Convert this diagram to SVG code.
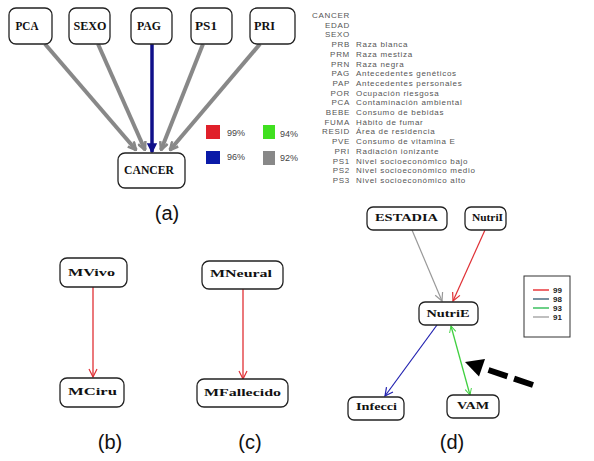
<svg xmlns="http://www.w3.org/2000/svg" width="594" height="461" viewBox="0 0 594 461">
<style>
.box{fill:#fff;stroke:#222;stroke-width:1.3}
.nl{font-family:"Liberation Serif",serif;font-weight:bold;fill:#111;text-anchor:middle}
.a{font-size:13px}
.s{font-size:10px}
.ab{font-family:"Liberation Sans",sans-serif;font-size:8px;fill:#555;letter-spacing:0.7px;text-anchor:end}
.ds{font-family:"Liberation Sans",sans-serif;font-size:8px;fill:#555;letter-spacing:0.7px}
.pl{font-family:"Liberation Sans",sans-serif;font-size:20px;fill:#111;text-anchor:middle}
.pct{font-family:"Liberation Sans",sans-serif;font-size:9px;fill:#444}
.lg{font-family:"Liberation Sans",sans-serif;font-size:8px;font-weight:bold;fill:#222}
</style>
<defs>
<marker id="mg" viewBox="0 0 10 10" refX="9" refY="5" markerWidth="10" markerHeight="10" markerUnits="userSpaceOnUse" orient="auto"><path d="M1,1 L9,5 L1,9" fill="none" stroke="#888" stroke-width="2.5"/></marker>
<marker id="mb" viewBox="0 0 10 10" refX="9" refY="5" markerWidth="10" markerHeight="10" markerUnits="userSpaceOnUse" orient="auto"><path d="M1,1 L9,5 L1,9 Z" fill="#10108a" stroke="#10108a" stroke-width="1.5"/></marker>
<marker id="mr" viewBox="0 0 10 10" refX="9" refY="5" markerWidth="10" markerHeight="10" markerUnits="userSpaceOnUse" orient="auto"><path d="M1,1 L9,5 L1,9" fill="none" stroke="#e03035" stroke-width="1.2"/></marker>
<marker id="mgr" viewBox="0 0 10 10" refX="9" refY="5" markerWidth="10" markerHeight="10" markerUnits="userSpaceOnUse" orient="auto"><path d="M1,1 L9,5 L1,9" fill="none" stroke="#999" stroke-width="1.2"/></marker>
<marker id="mbl" viewBox="0 0 10 10" refX="9" refY="5" markerWidth="10" markerHeight="10" markerUnits="userSpaceOnUse" orient="auto"><path d="M1,1 L9,5 L1,9" fill="none" stroke="#2020b0" stroke-width="1.2"/></marker>
<marker id="mgn" viewBox="0 0 10 10" refX="9" refY="5" markerWidth="8" markerHeight="8" markerUnits="userSpaceOnUse" orient="auto-start-reverse"><path d="M1,1 L9,5 L1,9" fill="none" stroke="#40d040" stroke-width="1.2"/></marker>
</defs>

<g id="connectors">
<line x1="45" y1="44" x2="136" y2="150" stroke="#888" stroke-width="4" marker-end="url(#mg)"/>
<line x1="98" y1="44" x2="145" y2="150" stroke="#888" stroke-width="4" marker-end="url(#mg)"/>
<line x1="152" y1="44" x2="152" y2="152" stroke="#10108a" stroke-width="3.5" marker-end="url(#mb)"/>
<line x1="203" y1="44" x2="161" y2="150" stroke="#888" stroke-width="4" marker-end="url(#mg)"/>
<line x1="260" y1="44" x2="170" y2="150" stroke="#888" stroke-width="4" marker-end="url(#mg)"/>
<line x1="93" y1="287" x2="93" y2="377" stroke="#e03035" stroke-width="1.3" marker-end="url(#mr)"/>
<line x1="243" y1="289" x2="243" y2="379" stroke="#e03035" stroke-width="1.3" marker-end="url(#mr)"/>
<line x1="412" y1="230" x2="442" y2="301" stroke="#999" stroke-width="1.2" marker-end="url(#mgr)"/>
<line x1="485" y1="230" x2="453" y2="301" stroke="#e03035" stroke-width="1.2" marker-end="url(#mr)"/>
<line x1="437" y1="325" x2="385" y2="396" stroke="#2020b0" stroke-width="1.2" marker-end="url(#mbl)"/>
<line x1="451" y1="326" x2="470" y2="395" stroke="#40d040" stroke-width="1.3" marker-start="url(#mgn)" marker-end="url(#mgn)"/>
<line x1="533" y1="385" x2="484" y2="368.5" stroke="#000" stroke-width="6" stroke-dasharray="20 7"/>
<polygon points="465,362 485,359 479,376.5" fill="#000"/>
</g>

<g id="node-PCA"><rect class="box" x="9" y="8" width="43" height="36" rx="7"/><text class="nl a" x="27" y="30" textLength="23" lengthAdjust="spacingAndGlyphs">PCA</text></g>
<g id="node-SEXO"><rect class="box" x="69" y="8" width="41" height="36" rx="7"/><text class="nl a" x="90" y="30" textLength="33" lengthAdjust="spacingAndGlyphs">SEXO</text></g>
<g id="node-PAG"><rect class="box" x="131" y="8" width="41" height="36" rx="7"/><text class="nl a" x="149" y="30" textLength="24" lengthAdjust="spacingAndGlyphs">PAG</text></g>
<g id="node-PS1"><rect class="box" x="191" y="8" width="41" height="36" rx="7"/><text class="nl a" x="206" y="30" textLength="22" lengthAdjust="spacingAndGlyphs">PS1</text></g>
<g id="node-PRI"><rect class="box" x="250" y="8" width="45" height="36" rx="7"/><text class="nl a" x="264.5" y="30" textLength="21" lengthAdjust="spacingAndGlyphs">PRI</text></g>
<g id="node-CANCER"><rect class="box" x="118" y="153" width="67" height="35" rx="7"/><text class="nl a" x="149" y="174" textLength="50" lengthAdjust="spacingAndGlyphs">CANCER</text></g>

<g id="legend-a">
<rect x="206" y="125" width="14" height="14" fill="#e0202a"/><text class="pct" x="227" y="136">99%</text>
<rect x="263" y="125" width="12" height="14" fill="#40e020"/><text class="pct" x="280" y="137">94%</text>
<rect x="206" y="151" width="14" height="13" fill="#0a1aa8"/><text class="pct" x="227" y="160">96%</text>
<rect x="263" y="151" width="12" height="14" fill="#888"/><text class="pct" x="280" y="161">92%</text>
</g>

<g id="variable-list">
<text class="ab" x="350" y="18">CANCER</text>
<text class="ab" x="350" y="27.7">EDAD</text>
<text class="ab" x="350" y="37.4">SEXO</text>
<text class="ab" x="350" y="47.1">PRB</text><text class="ds" x="356" y="47.1">Raza blanca</text>
<text class="ab" x="350" y="56.8">PRM</text><text class="ds" x="356" y="56.8">Raza mestiza</text>
<text class="ab" x="350" y="66.5">PRN</text><text class="ds" x="356" y="66.5">Raza negra</text>
<text class="ab" x="350" y="76.2">PAG</text><text class="ds" x="356" y="76.2">Antecedentes genéticos</text>
<text class="ab" x="350" y="85.9">PAP</text><text class="ds" x="356" y="85.9">Antecedentes personales</text>
<text class="ab" x="350" y="95.6">POR</text><text class="ds" x="356" y="95.6">Ocupación riesgosa</text>
<text class="ab" x="350" y="105.3">PCA</text><text class="ds" x="356" y="105.3">Contaminación ambiental</text>
<text class="ab" x="350" y="115">BEBE</text><text class="ds" x="356" y="115">Consumo de bebidas</text>
<text class="ab" x="350" y="124.7">FUMA</text><text class="ds" x="356" y="124.7">Hábito de fumar</text>
<text class="ab" x="350" y="134.4">RESID</text><text class="ds" x="356" y="134.4">Área de residencia</text>
<text class="ab" x="350" y="144.1">PVE</text><text class="ds" x="356" y="144.1">Consumo de vitamina E</text>
<text class="ab" x="350" y="153.8">PRI</text><text class="ds" x="356" y="153.8">Radiación ionizante</text>
<text class="ab" x="350" y="163.5">PS1</text><text class="ds" x="356" y="163.5">Nivel socioeconómico bajo</text>
<text class="ab" x="350" y="173.2">PS2</text><text class="ds" x="356" y="173.2">Nivel socioeconómico medio</text>
<text class="ab" x="350" y="182.9">PS3</text><text class="ds" x="356" y="182.9">Nivel socioeconómico alto</text>
</g>

<g id="node-MVivo"><rect class="box" x="60" y="258" width="67" height="29" rx="7"/><text class="nl s" x="91.5" y="276" textLength="47" lengthAdjust="spacingAndGlyphs">MVivo</text></g>
<g id="node-MCiru"><rect class="box" x="60" y="378" width="64" height="29" rx="7"/><text class="nl s" x="92.5" y="395" textLength="49" lengthAdjust="spacingAndGlyphs">MCiru</text></g>
<g id="node-MNeural"><rect class="box" x="202" y="261" width="81" height="28" rx="7"/><text class="nl s" x="241" y="277" textLength="62" lengthAdjust="spacingAndGlyphs">MNeural</text></g>
<g id="node-MFallecido"><rect class="box" x="197" y="379" width="91" height="28" rx="7"/><text class="nl s" x="242.5" y="396" textLength="77" lengthAdjust="spacingAndGlyphs">MFallecido</text></g>

<g id="node-ESTADIA"><rect class="box" x="367" y="207" width="80" height="23" rx="6"/><text class="nl s" x="406.5" y="221" textLength="63" lengthAdjust="spacingAndGlyphs">ESTADIA</text></g>
<g id="node-NutriI"><rect class="box" x="465" y="207" width="41" height="23" rx="6"/><text class="nl s" x="487.5" y="221" textLength="31" lengthAdjust="spacingAndGlyphs">NutriI</text></g>
<g id="node-NutriE"><rect class="box" x="419" y="302" width="59" height="23" rx="6"/><text class="nl s" x="448" y="317" textLength="43" lengthAdjust="spacingAndGlyphs">NutriE</text></g>
<g id="node-Infecci"><rect class="box" x="348" y="397" width="56" height="23" rx="6"/><text class="nl s" x="376.5" y="410" textLength="41" lengthAdjust="spacingAndGlyphs">Infecci</text></g>
<g id="node-VAM"><rect class="box" x="447" y="395" width="52" height="23" rx="6"/><text class="nl s" x="473" y="409" textLength="32" lengthAdjust="spacingAndGlyphs">VAM</text></g>

<g id="legend-d">
<rect x="524" y="276" width="46" height="61" fill="#fff" stroke="#333" stroke-width="1"/>
<line x1="533" y1="290" x2="549" y2="290" stroke="#e8383d" stroke-width="1.5"/><text class="lg" x="553" y="292.5">99</text>
<line x1="533" y1="299" x2="549" y2="299" stroke="#4a6b80" stroke-width="1.5"/><text class="lg" x="553" y="301.5">98</text>
<line x1="533" y1="308" x2="549" y2="308" stroke="#3cc060" stroke-width="1.5"/><text class="lg" x="553" y="310.5">93</text>
<line x1="533" y1="317" x2="549" y2="317" stroke="#aaa" stroke-width="1.5"/><text class="lg" x="553" y="319.5">91</text>
</g>

<text class="pl" x="167" y="220">(a)</text>
<text class="pl" x="110" y="449">(b)</text>
<text class="pl" x="250" y="449">(c)</text>
<text class="pl" x="452" y="449">(d)</text>
</svg>
